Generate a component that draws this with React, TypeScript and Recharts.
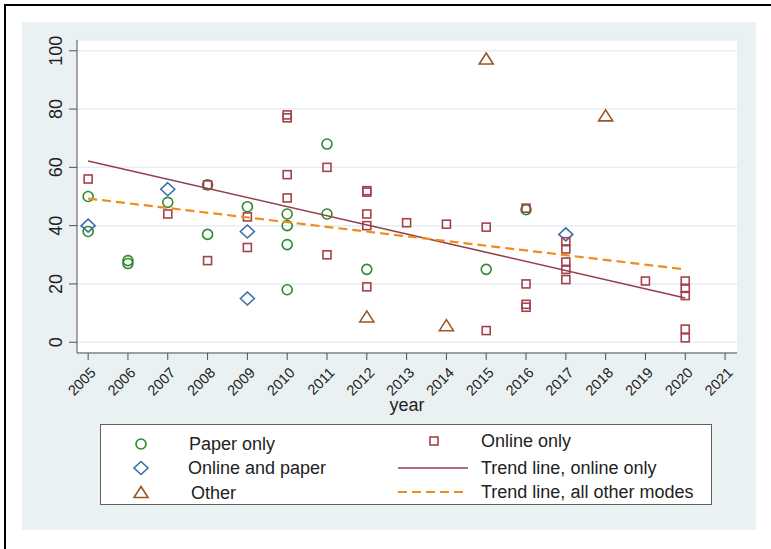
import React from 'react';
import { ComposedChart, Scatter, XAxis, YAxis, CartesianGrid } from 'recharts';

const FONT = '"Liberation Sans", Arial, Helvetica, sans-serif';

const COLORS = {
  paper: '#2b8a2b',
  both: '#3b6ea8',
  online: '#a5414c',
  other: '#9a5623',
  trendOnline: '#93404a',
  trendOther: '#f28a1c',
  axis: '#505050',
  grid: '#e6eef1',
  panel: '#eaf1f3',
};

const yearTicks = [2005, 2006, 2007, 2008, 2009, 2010, 2011, 2012, 2013, 2014, 2015, 2016, 2017, 2018, 2019, 2020, 2021];
const valueTicks = [0, 20, 40, 60, 80, 100];

const paperOnly = [
  { year: 2005, value: 50 }, { year: 2005, value: 38 },
  { year: 2006, value: 28 }, { year: 2006, value: 27 },
  { year: 2007, value: 48 },
  { year: 2008, value: 54 }, { year: 2008, value: 37 },
  { year: 2009, value: 46.5 },
  { year: 2010, value: 44 }, { year: 2010, value: 40 }, { year: 2010, value: 33.5 }, { year: 2010, value: 18 },
  { year: 2011, value: 68 }, { year: 2011, value: 44 },
  { year: 2012, value: 25 },
  { year: 2015, value: 25 },
  { year: 2016, value: 45.5 },
];

const onlineAndPaper = [
  { year: 2005, value: 40 },
  { year: 2007, value: 52.5 },
  { year: 2009, value: 38 }, { year: 2009, value: 15 },
  { year: 2017, value: 37 },
];

const otherModes = [
  { year: 2012, value: 8.5 },
  { year: 2014, value: 5.5 },
  { year: 2015, value: 97 },
  { year: 2018, value: 77.5 },
];

const onlineOnly = [
  { year: 2005, value: 56 },
  { year: 2007, value: 44 },
  { year: 2008, value: 54 }, { year: 2008, value: 28 },
  { year: 2009, value: 43 }, { year: 2009, value: 32.5 },
  { year: 2010, value: 78 }, { year: 2010, value: 77 }, { year: 2010, value: 57.5 }, { year: 2010, value: 49.5 },
  { year: 2011, value: 60 }, { year: 2011, value: 30 },
  { year: 2012, value: 52 }, { year: 2012, value: 51.5 }, { year: 2012, value: 44 }, { year: 2012, value: 40 }, { year: 2012, value: 19 },
  { year: 2013, value: 41 },
  { year: 2014, value: 40.5 },
  { year: 2015, value: 39.5 }, { year: 2015, value: 4 },
  { year: 2016, value: 46 }, { year: 2016, value: 20 }, { year: 2016, value: 13 }, { year: 2016, value: 12 },
  { year: 2017, value: 34.5 }, { year: 2017, value: 32 }, { year: 2017, value: 27.5 }, { year: 2017, value: 25 }, { year: 2017, value: 21.5 },
  { year: 2019, value: 21 },
  { year: 2020, value: 21 }, { year: 2020, value: 18.5 }, { year: 2020, value: 16 }, { year: 2020, value: 4.5 }, { year: 2020, value: 1.5 },
];

const trendOnline = [
  { year: 2005, value: 62.2 },
  { year: 2020, value: 15.2 },
];

const trendOther = [
  { year: 2005, value: 49.3 },
  { year: 2020, value: 25 },
];

const SW = 1.6;

const CircleShape = (p: any) => (
  <circle cx={p.cx} cy={p.cy} r={5} fill="none" stroke={COLORS.paper} strokeWidth={SW} />
);
const SquareShape = (p: any) => (
  <rect x={p.cx - 4} y={p.cy - 4} width={8} height={8} fill="none" stroke={COLORS.online} strokeWidth={SW} />
);
const DiamondShape = (p: any) => (
  <polygon
    points={`${p.cx},${p.cy - 6.5} ${p.cx + 7},${p.cy} ${p.cx},${p.cy + 6.5} ${p.cx - 7},${p.cy}`}
    fill="none" stroke={COLORS.both} strokeWidth={SW}
  />
);
const TriangleShape = (p: any) => (
  <polygon
    points={`${p.cx},${p.cy - 6.5} ${p.cx + 7},${p.cy + 4.5} ${p.cx - 7},${p.cy + 4.5}`}
    fill="none" stroke={COLORS.other} strokeWidth={SW} strokeLinejoin="miter"
  />
);
const NoShape = () => <g />;

function YearTick({ x, y, payload }: any) {
  return (
    <text
      x={x + 5}
      y={y + 8}
      transform={`rotate(-45, ${x + 5}, ${y + 8})`}
      textAnchor="end"
      dy="0.35em"
      fontSize={14.5}
      fontFamily={FONT}
      fill="#222"
    >
      {payload.value}
    </text>
  );
}

function ValueTick({ y, payload }: any) {
  return (
    <text
      x={62}
      y={y}
      transform={`rotate(-90, 62, ${y})`}
      textAnchor="middle"
      fontSize={18}
      fontFamily={FONT}
      fill="#222"
    >
      {payload.value}
    </text>
  );
}

function LegendBox() {
  const text = { fontSize: 18, fontFamily: FONT, fill: '#222' } as const;
  return (
    <svg width={612} height={81} style={{ position: 'absolute', left: 100, top: 424, background: '#fff', border: '1px solid #606060', boxSizing: 'border-box' }}>
      <circle cx={40} cy={19} r={5} fill="none" stroke={COLORS.paper} strokeWidth={SW} />
      <text x={88} y={19} dominantBaseline="central" {...text}>Paper only</text>
      <polygon points="40,36.5 47,43 40,49.5 33,43" fill="none" stroke={COLORS.both} strokeWidth={SW} />
      <text x={87} y={43} dominantBaseline="central" {...text}>Online and paper</text>
      <polygon points="40,61.5 47,72.5 33,72.5" fill="none" stroke={COLORS.other} strokeWidth={SW} />
      <text x={90} y={68} dominantBaseline="central" {...text}>Other</text>
      <rect x={329} y={12} width={8} height={8} fill="none" stroke={COLORS.online} strokeWidth={SW} />
      <text x={380} y={16} dominantBaseline="central" {...text}>Online only</text>
      <line x1={297} x2={367} y1={43} y2={43} stroke={COLORS.trendOnline} strokeWidth={1.6} />
      <text x={380} y={43} dominantBaseline="central" {...text}>Trend line, online only</text>
      <line x1={297} x2={367} y1={67} y2={67} stroke={COLORS.trendOther} strokeWidth={2.2} strokeDasharray="9 5" />
      <text x={380} y={67} dominantBaseline="central" {...text}>Trend line, all other modes</text>
    </svg>
  );
}

export default function App() {
  return (
    <div style={{ position: 'absolute', left: 0, top: 0, width: 771, height: 549, background: '#fff', overflow: 'hidden', fontFamily: FONT }}>
      <div style={{ position: 'absolute', left: 4, top: 4, right: 0, bottom: 0, borderTop: '2px solid #000', borderLeft: '2px solid #000' }} />
      <div style={{ position: 'absolute', left: 22, top: 22, width: 734, height: 508, background: COLORS.panel }} />
      <div style={{ position: 'absolute', left: 0, top: 0 }}>
        <ComposedChart width={771} height={549} margin={{ top: 40, right: 34, bottom: 136, left: 0 }}>
          <CartesianGrid vertical={false} fill="#ffffff" stroke={COLORS.grid} strokeWidth={1.5} />
          <XAxis
            type="number"
            dataKey="year"
            domain={[2004.72, 2021.3]}
            ticks={yearTicks}
            interval={0}
            allowDataOverflow
            height={60}
            tickSize={7}
            stroke={COLORS.axis}
            tick={<YearTick />}
            label={{ value: 'year', position: 'insideBottom', offset: 2, fontSize: 18, fontFamily: FONT, fill: '#222' }}
          />
          <YAxis
            type="number"
            dataKey="value"
            domain={[-3.7, 103.7]}
            ticks={valueTicks}
            interval={0}
            allowDataOverflow
            width={77}
            tickSize={8}
            stroke={COLORS.axis}
            tick={<ValueTick />}
          />
          <Scatter name="Paper only" data={paperOnly} shape={CircleShape} isAnimationActive={false} />
          <Scatter name="Online and paper" data={onlineAndPaper} shape={DiamondShape} isAnimationActive={false} />
          <Scatter name="Other" data={otherModes} shape={TriangleShape} isAnimationActive={false} />
          <Scatter name="Online only" data={onlineOnly} shape={SquareShape} isAnimationActive={false} />
          <Scatter
            name="Trend line, online only"
            data={trendOnline}
            shape={NoShape}
            line={{ stroke: COLORS.trendOnline, strokeWidth: 1.6 }}
            isAnimationActive={false}
          />
          <Scatter
            name="Trend line, all other modes"
            data={trendOther}
            shape={NoShape}
            line={{ stroke: COLORS.trendOther, strokeWidth: 2.2, strokeDasharray: '9 5' }}
            isAnimationActive={false}
          />
        </ComposedChart>
      </div>
      <LegendBox />
    </div>
  );
}
